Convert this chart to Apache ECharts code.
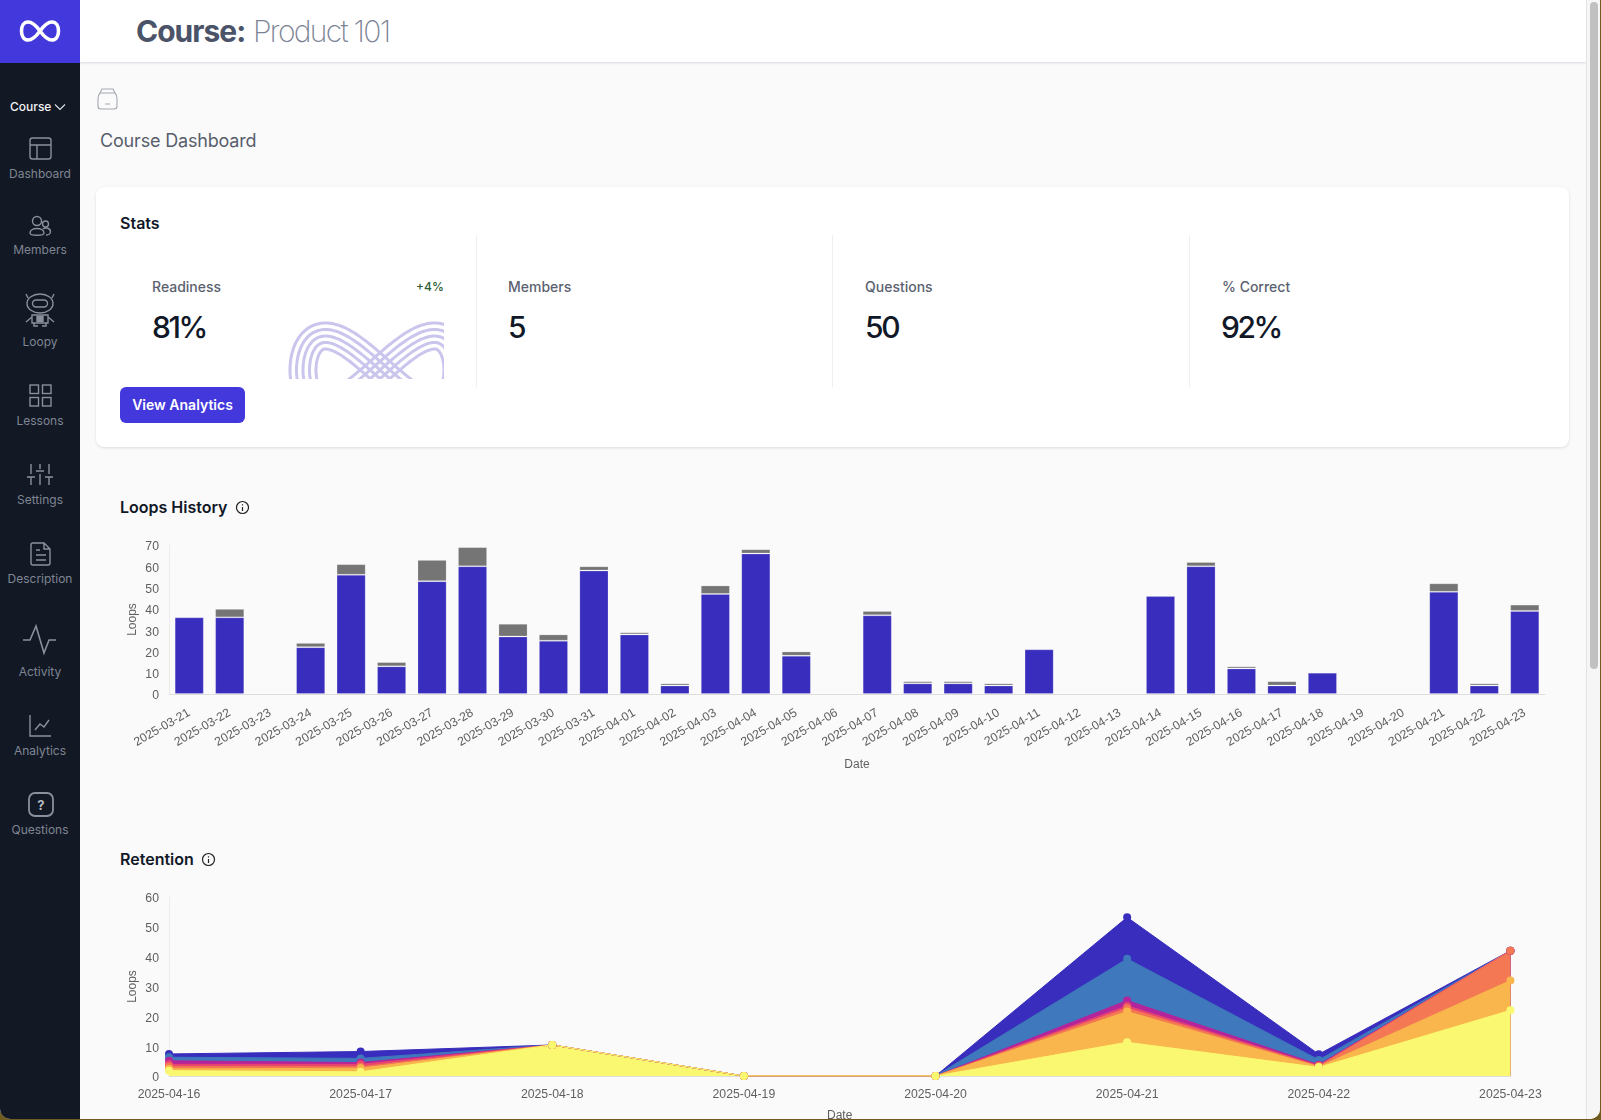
<!DOCTYPE html>
<html lang="en">
<head>
<meta charset="UTF-8">
<title>Course Dashboard</title>
<script src="https://cdn.jsdelivr.net/npm/echarts@6/dist/echarts.min.js"></script>
<style>
  html, body { margin: 0; padding: 0; background: #6f5c1e; overflow: hidden; }
  body { width: 1601px; height: 1120px; position: relative; font-family: Inter, "Noto Sans", sans-serif; }
  #win { position: absolute; left: 0; top: 0; width: 1600px; height: 1119px; background: #fafafa; overflow: hidden; border-radius: 0 0 10px 10px; }
  .abs { position: absolute; white-space: nowrap; }
  #side { position: absolute; left: 0; top: 0; width: 80px; height: 1119px; background: #121824; }
  #logo { position: absolute; left: 0; top: 0; width: 80px; height: 63px; background: #4338db; }
  #head { position: absolute; left: 80px; top: 0; width: 1506px; height: 62px; background: #fff; box-shadow: 0 1px 2px rgba(60,60,110,.18); }
  .nav { position: absolute; left: 0; width: 80px; text-align: center; font-size: 12px; line-height: 14px; color: #7f8693; }
  .lab { position: absolute; font-size: 14px; font-weight: 500; line-height: 16px; color: #5b6170; }
  .val { position: absolute; font-size: 30px; font-weight: 500; line-height: 36px; color: #111827; letter-spacing: -2.4px; }
  .vline { position: absolute; top: 235px; width: 1px; height: 152px; background: #efefef; }
  .h { position: absolute; font-size: 16px; font-weight: 600; line-height: 20px; color: #111827; }
  #card { position: absolute; left: 96px; top: 187px; width: 1473px; height: 260px; background: #fff; border-radius: 8px; box-shadow: 0 1px 3px rgba(0,0,0,.12); }
  #btn { position: absolute; left: 120px; top: 387px; width: 125px; height: 36px; line-height: 36px; background: #4338db; border-radius: 6px; color: #fff; text-align: center; font-size: 14px; font-weight: 600; }
  #track { position: absolute; left: 1586px; top: 0; width: 14px; height: 1119px; background: #f6f6f6; border-left: 1px solid #e4e4e4; box-sizing: border-box; }
  #thumb { position: absolute; left: 3px; top: 2px; width: 8px; height: 667px; background: #c1c1c1; border-radius: 4px; }
  #loopsChart { position: absolute; left: 100px; top: 530px; width: 1470px; height: 250px; }
  #retentionChart { position: absolute; left: 100px; top: 880px; width: 1470px; height: 239px; }
</style>
</head>
<body>
<div id="win">
  <div id="head"></div>
  <div class="abs" style="left:136px;top:13px;font-size:30px;line-height:36px;font-weight:700;letter-spacing:-1px;color:#4b5368">Course:</div>
  <div class="abs" style="left:253px;top:13px;font-size:30px;line-height:36px;font-weight:200;letter-spacing:-1.7px;color:#7b8394">Product 101</div>

  <div id="side"></div>
  <div id="logo"></div>
  <svg class="abs" style="left:0;top:0" width="80" height="860" fill="none" stroke="#8a909c" stroke-width="1.4">
    <path d="M40 31 C35 24 31 22 28 22 C24 22 21.500 26 21.500 31 C21.500 36 24 40 28 40 C31 40 35 38 40 31 C45 24 49 22 52 22 C56 22 58.500 26 58.500 31 C58.500 36 56 40 52 40 C49 40 45 38 40 31 Z" stroke="#fff" stroke-width="3.600"/>
    <path d="M55 104.500 L60 109.500 L65 104.500" stroke="#dfe2e8" stroke-width="1.100"/>
    <rect x="30" y="138" width="21" height="21" rx="2.500"/><path d="M30 145 H51 M37 145 V159"/>
    <circle cx="37" cy="221" r="4.500"/><circle cx="45.500" cy="224" r="3"/><path d="M30 233 C30 227 44 227 44 233 C44 236 30 236 30 233 Z M43 229 C46 227 50.500 228 50.500 232 C50.500 234 48 235 46 235"/>
    <ellipse cx="40" cy="303.500" rx="13" ry="9.500"/><rect x="32.500" y="300" width="15" height="7" rx="3.500"/><path d="M28 298 L26 294 M52 298 L54 294 M32 315 H48 V323 H32 Z M32 317 L26 322 M48 317 L54 322 M34 323 V326 H38 M46 323 V326 H42"/><rect x="37" y="316.500" width="6" height="5" fill="#8a909c"/>
    <rect x="30" y="385" width="8.500" height="8.500"/><rect x="42.500" y="385" width="8.500" height="8.500"/><rect x="30" y="397.500" width="8.500" height="8.500"/><rect x="42.500" y="397.500" width="8.500" height="8.500"/>
    <path d="M31 464 V474 M27 477 H35 M31 477 V485 M40 464 V469 M36 471 H44 M40 474 V485 M49 464 V474 M45 477 H53 M49 477 V485"/>
    <path d="M33 543 H44 L50 549 V563 Q50 565 48 565 H33 Q31 565 31 563 V545 Q31 543 33 543 Z M44 543 V549 H50 M36 550 H40 M36 555 H46 M36 560 H46"/>
    <path d="M23 640 H30 L36 626 L44 653 L49 640 H56" stroke-width="1.600"/>
    <path d="M30 715 V736 H51 M35 730 L40 724 L44 727 L49 720"/>
    <rect x="29" y="793" width="24" height="23" rx="6" stroke-width="1.800"/>
    <text x="41" y="810" text-anchor="middle" font-size="13" font-weight="700" fill="#b4b8c0" stroke="none">?</text>
  </svg>
  <div class="abs" style="left:10px;top:100px;font-size:12px;line-height:14px;font-weight:500;color:#f2f3f5">Course</div>
  <div class="nav" style="top:167px">Dashboard</div>
  <div class="nav" style="top:243px">Members</div>
  <div class="nav" style="top:335px">Loopy</div>
  <div class="nav" style="top:414px">Lessons</div>
  <div class="nav" style="top:493px">Settings</div>
  <div class="nav" style="top:572px">Description</div>
  <div class="nav" style="top:665px">Activity</div>
  <div class="nav" style="top:744px">Analytics</div>
  <div class="nav" style="top:823px">Questions</div>

  <svg class="abs" style="left:96px;top:86px" width="26" height="26" fill="none" stroke="#a3a8b2" stroke-width="1.100">
    <path d="M6 3 H17 L19 7 H4 Z M4 7 H19 Q21 9 21 13 V20 Q21 23 18 23 H5 Q2 23 2 20 V13 Q2 9 4 7 Z M9 18 H14"/>
  </svg>
  <div class="abs" style="left:100px;top:130px;font-size:18px;line-height:22px;letter-spacing:-.18px;color:#585e6c">Course Dashboard</div>

  <div id="card"></div>
  <div class="h" style="left:120px;top:213px">Stats</div>
  <div class="vline" style="left:476px"></div>
  <div class="vline" style="left:832px"></div>
  <div class="vline" style="left:1189px"></div>
  <div class="lab" style="left:152px;top:279px">Readiness</div>
  <div class="abs" style="left:416px;top:280px;font-size:12px;line-height:14px;font-weight:500;color:#2b5e34">+4%</div>
  <div class="val" style="left:152px;top:309px">81%</div>
  <div class="lab" style="left:508px;top:279px">Members</div>
  <div class="val" style="left:508px;top:309px">5</div>
  <div class="lab" style="left:865px;top:279px">Questions</div>
  <div class="val" style="left:865px;top:309px">50</div>
  <div class="lab" style="left:1222px;top:279px">% Correct</div>
  <div class="val" style="left:1221px;top:309px">92%</div>
  <svg class="abs" id="ribbon" style="left:286px;top:316px" width="158" height="63" fill="none" stroke="#c9c5ec" stroke-width="3"></svg>
  <div id="btn">View Analytics</div>

  <div class="h" style="left:120px;top:497px">Loops History</div>
  <svg class="abs" style="left:235px;top:500px" width="15" height="15" fill="none" stroke="#222" stroke-width="1.200"><circle cx="7.500" cy="7.500" r="6"/><path d="M7.500 7 V11 M7.500 4.200 V5.400"/></svg>
  <div id="loopsChart"></div>

  <div class="h" style="left:120px;top:849px">Retention</div>
  <svg class="abs" style="left:201px;top:852px" width="15" height="15" fill="none" stroke="#222" stroke-width="1.200"><circle cx="7.500" cy="7.500" r="6"/><path d="M7.500 7 V11 M7.500 4.200 V5.400"/></svg>
  <div id="retentionChart"></div>

  <div id="track"><div id="thumb"></div></div>
</div>

<script>
// Loops History
const loopDates = ['2025-03-21','2025-03-22','2025-03-23','2025-03-24','2025-03-25','2025-03-26','2025-03-27','2025-03-28','2025-03-29','2025-03-30','2025-03-31','2025-04-01','2025-04-02','2025-04-03','2025-04-04','2025-04-05','2025-04-06','2025-04-07','2025-04-08','2025-04-09','2025-04-10','2025-04-11','2025-04-12','2025-04-13','2025-04-14','2025-04-15','2025-04-16','2025-04-17','2025-04-18','2025-04-19','2025-04-20','2025-04-21','2025-04-22','2025-04-23'];
const loopsBlue = [36,36,0,22,56,13,53,60,27,25,58,28,4,47,66,18,0,37,5,5,4,21,0,0,46,60,12,4,10,0,0,48,4,39];
const loopsGray = [0,4,0,2,5,2,10,9,6,3,2,1,1,4,2,2,0,2,1,1,1,0,0,0,0,2,1,2,0,0,0,4,1,3];

// Retention
const retentionDates = ['2025-04-16','2025-04-17','2025-04-18','2025-04-19','2025-04-20','2025-04-21','2025-04-22','2025-04-23'];
const retIndigo  = [7.4,8.2,10.4,0,0,53.2,7.3,42];
const retBlue    = [6.3,5.9,10.4,0,0,39.3,5.4,42];
const retMagenta = [5.1,4.5,10.4,0,0,25.3,3.8,42];
const retRed     = [3.9,3.9,10.4,0,0,23.5,3.5,42];
const retCoral   = [3.2,3.1,10.4,0,0,22.7,3.3,42];
const retOrange  = [2.4,2.6,10.4,0,0,21.6,3.1,32];
const retYellow  = [1.8,1.4,10.4,0,0,11.3,2.9,22];

const labelColor = '#5f5f5f';
const labelFont = 'Liberation Sans';

// the decorative infinity in the Readiness tile: parallel lines around one figure eight
const ribbonOffsets = [-13, -6.5, 0, 6.5, 13];
ribbonOffsets.forEach(function (off) {
  let d = '';
  for (let i = 0; i <= 240; i++) {
    const t = i / 240 * Math.PI * 2;
    const dx = -77 * Math.sin(t), dy = 68 * Math.cos(2 * t);
    const len = Math.hypot(dx, dy);
    const x = 94 + 77 * Math.cos(t) + off * dy / len;
    const y = 54 + 34 * Math.sin(2 * t) - off * dx / len;
    d += (i ? 'L' : 'M') + x.toFixed(1) + ' ' + y.toFixed(1);
  }
  const p = document.createElementNS('http://www.w3.org/2000/svg', 'path');
  p.setAttribute('d', d);
  document.getElementById('ribbon').appendChild(p);
});

function hideZero(v) { return v === 0 ? null : v; }

const loopsChart = echarts.init(document.getElementById('loopsChart'));
loopsChart.setOption({
  animation: false,
  grid: { left: 69, right: 25, top: 15, bottom: 86, outerBoundsMode: 'none' },
  xAxis: {
    type: 'category',
    data: loopDates,
    name: 'Date',
    nameLocation: 'middle',
    nameGap: 65,
    nameMoveOverlap: false,
    nameTextStyle: { color: labelColor, fontSize: 12, fontFamily: labelFont },
    axisTick: { show: false },
    axisLine: { lineStyle: { color: '#dedede' } },
    axisLabel: { rotate: 30, interval: 0, margin: 18, color: labelColor, fontSize: 12.25, fontFamily: labelFont }
  },
  yAxis: {
    type: 'value',
    min: 0,
    max: 70,
    interval: 10,
    name: 'Loops',
    nameLocation: 'middle',
    nameGap: 30,
    nameMoveOverlap: false,
    nameTextStyle: { color: labelColor, fontSize: 12, fontFamily: labelFont },
    splitLine: { show: false },
    axisTick: { show: false },
    axisLine: { show: true, lineStyle: { color: '#ececec' } },
    axisLabel: { margin: 10, verticalAlign: 'top', lineHeight: 4, color: labelColor, fontSize: 12.25, fontFamily: labelFont }
  },
  series: [
    { type: 'bar', stack: 'loops', data: loopsBlue.map(hideZero), barWidth: '72%', itemStyle: { color: '#382dbc', borderColor: 'rgba(255,255,255,.2)', borderWidth: 1 } },
    { type: 'bar', stack: 'loops', data: loopsGray.map(hideZero), barWidth: '72%', itemStyle: { color: '#757575', borderColor: 'rgba(255,255,255,.2)', borderWidth: 1 } }
  ]
});

const retentionSeries = [
  [retIndigo, '#382dbc'],
  [retBlue, '#3f78bc'],
  [retMagenta, '#b4249b'],
  [retRed, '#e8456f'],
  [retCoral, '#f37853'],
  [retOrange, '#f8b64c'],
  [retYellow, '#faf870']
];

const retentionChart = echarts.init(document.getElementById('retentionChart'));
retentionChart.setOption({
  animation: false,
  grid: { left: 69, right: 59.600, top: 17, bottom: 43, outerBoundsMode: 'none' },
  xAxis: {
    type: 'category',
    boundaryGap: false,
    data: retentionDates,
    name: 'Date',
    nameLocation: 'middle',
    nameGap: 34,
    nameMoveOverlap: false,
    nameTextStyle: { color: labelColor, fontSize: 12, fontFamily: labelFont },
    axisTick: { show: false },
    axisLine: { lineStyle: { color: '#dedede' } },
    axisLabel: { interval: 0, margin: 13, color: labelColor, fontSize: 12.25, fontFamily: labelFont }
  },
  yAxis: {
    type: 'value',
    min: 0,
    max: 60,
    interval: 10,
    name: 'Loops',
    nameLocation: 'middle',
    nameGap: 30,
    nameMoveOverlap: false,
    nameTextStyle: { color: labelColor, fontSize: 12, fontFamily: labelFont },
    splitLine: { show: false },
    axisTick: { show: false },
    axisLine: { show: true, lineStyle: { color: '#ececec' } },
    axisLabel: { margin: 10, verticalAlign: 'top', lineHeight: 4, color: labelColor, fontSize: 12.25, fontFamily: labelFont }
  },
  series: retentionSeries.map(function (s) {
    return {
      type: 'line',
      data: s[0],
      showAllSymbol: true,
      symbol: 'circle',
      symbolSize: 8,
      lineStyle: { color: s[1], width: 1 },
      itemStyle: { color: s[1] },
      areaStyle: { color: s[1], opacity: 1 }
    };
  })
});
</script>
</body>
</html>
